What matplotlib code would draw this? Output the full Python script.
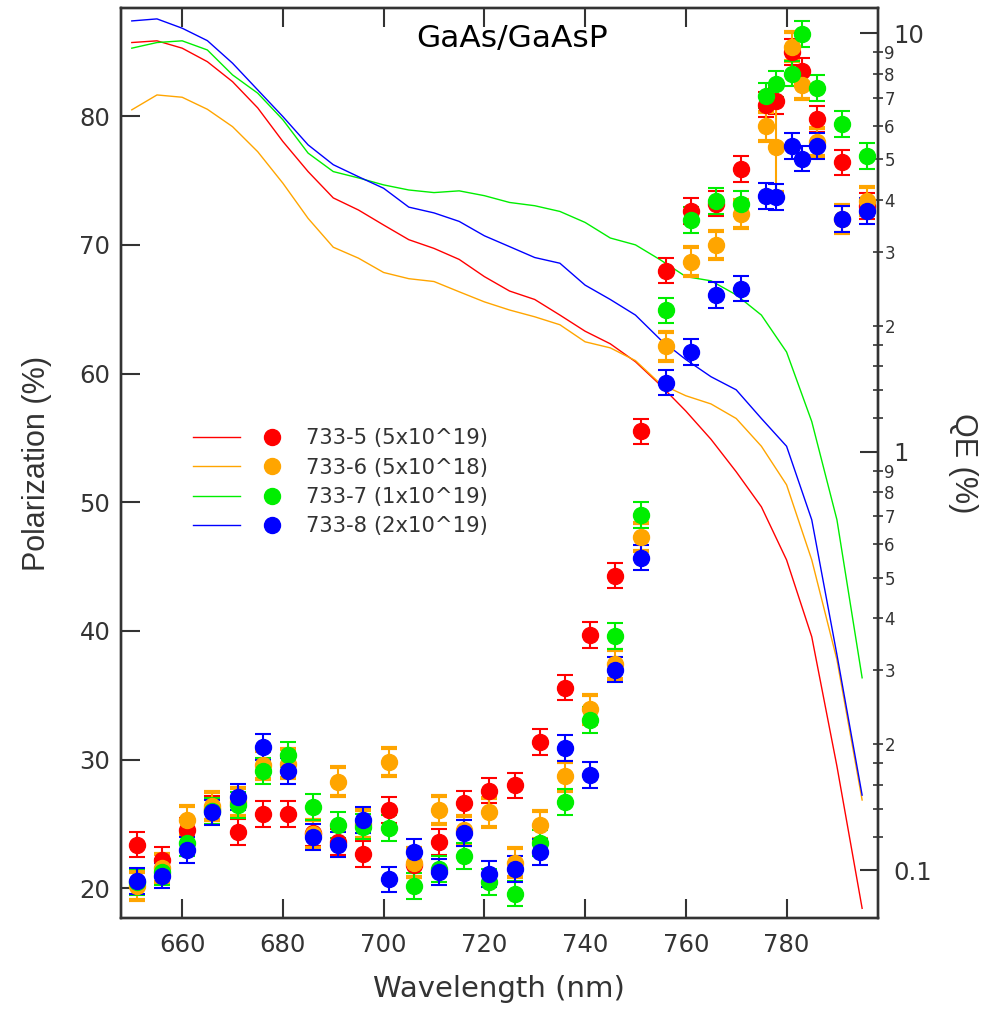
import numpy as np
import matplotlib
matplotlib.use("Agg")
import matplotlib.pyplot as plt
from matplotlib.lines import Line2D
from matplotlib.legend_handler import HandlerTuple
from matplotlib.ticker import FixedLocator, FuncFormatter

# Wide sans for horizontal text, narrower one for the rotated axis labels
plt.rcParams['font.family'] = ['DejaVu Sans']
narrowFont = ['Liberation Sans', 'DejaVu Sans']

# ---------------------------------------------------------------------------#
# ------------------------------- Data ------------------------------------- #

samples = ['733-5 (5x10^19)', '733-6 (5x10^18)', '733-7 (1x10^19)', '733-8 (2x10^19)']
colors = ['#ff0000', '#ffa500', '#00ee00', '#0000ff']

# QE curves (right axis, %)
qeWave = [650, 655, 660, 665, 670, 675, 680, 685, 690, 695, 700, 705, 710, 715, 720,
          725, 730, 735, 740, 745, 750, 755, 760, 765, 770, 775, 780, 785, 790, 795]
qe733_5 = [9.50, 9.59, 9.21, 8.55, 7.66, 6.63, 5.51, 4.67, 4.04, 3.78, 3.48, 3.21, 3.06, 2.88, 2.62,
           2.42, 2.31, 2.12, 1.94, 1.81, 1.64, 1.44, 1.25, 1.07, 0.895, 0.738, 0.551, 0.361, 0.177, 0.081]
qe733_6 = [6.56, 7.12, 7.03, 6.58, 5.98, 5.21, 4.38, 3.61, 3.08, 2.90, 2.68, 2.59, 2.55, 2.41, 2.28,
           2.18, 2.10, 2.01, 1.83, 1.77, 1.65, 1.45, 1.36, 1.30, 1.20, 1.03, 0.833, 0.551, 0.318, 0.147]
qe733_7 = [9.21, 9.50, 9.59, 9.12, 7.95, 7.19, 6.21, 5.17, 4.67, 4.51, 4.34, 4.22, 4.16, 4.20, 4.09,
           3.94, 3.87, 3.75, 3.53, 3.24, 3.12, 2.87, 2.62, 2.56, 2.37, 2.12, 1.73, 1.18, 0.687, 0.288]
qe733_8 = [10.70, 10.82, 10.28, 9.60, 8.48, 7.32, 6.32, 5.41, 4.85, 4.54, 4.26, 3.84, 3.72, 3.55, 3.28,
           3.09, 2.91, 2.82, 2.50, 2.31, 2.12, 1.85, 1.66, 1.51, 1.405, 1.20, 1.03, 0.687, 0.327, 0.151]

# Polarization points (left axis, %)
polWave = [651, 656, 661, 666, 671, 676, 681, 686, 691, 696, 701, 706, 711, 716, 721, 726,
           731, 736, 741, 746, 751, 756, 761, 766, 771, 776, 778, 781, 783, 786, 791, 796]
pol733_5 = [23.4, 22.2, 24.5, 26.2, 24.4, 25.8, 25.8, 24.3, 23.6, 22.7, 26.1, 21.8, 23.6, 26.6, 27.6, 28.0,
            31.4, 35.6, 39.7, 44.3, 55.5, 68.0, 72.6, 73.2, 75.9, 80.9, 81.2, 85.0, 83.5, 79.8, 76.4, 73.0]
pol733_6 = [20.2, 21.6, 25.3, 26.4, 26.7, 29.6, 29.7, 24.2, 28.3, 25.0, 29.8, 22.0, 26.1, 24.5, 25.9, 22.0,
            24.9, 28.7, 33.9, 37.4, 47.3, 62.1, 68.7, 70.0, 72.4, 79.2, 77.6, 85.4, 82.4, 78.0, 72.0, 73.4]
pol733_7 = [20.5, 21.3, 23.5, 26.0, 26.5, 29.1, 30.4, 26.3, 24.9, 24.8, 24.7, 20.2, 21.5, 22.5, 20.5, 19.6,
            23.5, 26.7, 33.1, 39.6, 49.0, 64.9, 71.9, 73.4, 73.2, 81.6, 82.5, 83.3, 86.4, 82.2, 79.4, 76.9]
pol733_8 = [20.6, 21.0, 23.0, 25.9, 27.1, 31.0, 29.1, 24.0, 23.4, 25.3, 20.7, 22.8, 21.3, 24.3, 21.1, 21.5,
            22.8, 30.9, 28.8, 37.0, 45.7, 59.3, 61.7, 66.1, 66.6, 73.8, 73.7, 77.7, 76.7, 77.7, 72.0, 72.6]
polErr = [1.0, 1.1, 1.0, 1.0]
polErr733_6 = [1.1, 1.1, 1.1, 1.1, 1.1, 1.1, 1.1, 1.1, 1.1, 1.1, 1.1, 1.1, 1.1, 1.1, 1.1, 1.1,
               1.1, 1.1, 1.1, 1.1, 1.1, 1.1, 1.1, 1.1, 1.1, 1.1, 3.5, 1.1, 1.1, 1.1, 1.1, 1.1]

qeCurves = [qe733_5, qe733_6, qe733_7, qe733_8]
polCurves = [pol733_5, pol733_6, pol733_7, pol733_8]

# ---------------------------------------------------------------------------#
# ------------------------------- Plot ------------------------------------- #

axisColor = '#333333'
fig = plt.figure(figsize=(9.87, 10.10), dpi=100)
ax = fig.add_axes([0.1223, 0.0911, 0.767, 0.901])
ax2 = ax.twinx()

# QE lines on the log axis
for qe, c in zip(qeCurves, colors):
    ax2.plot(qeWave, qe, '-', color=c, linewidth=1.0)

# Polarization points with error bars
for i, (pol, c) in enumerate(zip(polCurves, colors)):
    err = polErr733_6 if i == 1 else polErr[i]
    ax.errorbar(polWave, pol, yerr=err, fmt='o', color=c, ms=11.5, mec=c,
                ecolor=c, elinewidth=1.5, capsize=6, capthick=3.0 if i == 1 else 1.5)

# Points over the lines
ax.set_zorder(ax2.get_zorder() + 1)
ax.patch.set_visible(False)

ax.set_xlim(647.8, 798.1)
ax.set_ylim(17.7, 88.4)
ax2.set_yscale('log')
ax2.set_ylim(0.0768, 11.49)

# Left / bottom / top ticks
ax.set_xticks([660, 680, 700, 720, 740, 760, 780])
ax.set_yticks([20, 30, 40, 50, 60, 70, 80])
ax.tick_params(axis='both', which='major', direction='in', length=13.5, width=1.5,
               colors=axisColor, labelsize=17.5, pad=7.5, top=True, right=False)
ax.tick_params(axis='x', pad=10.5)

# Right log ticks
ax2.yaxis.set_major_locator(FixedLocator([0.1, 1, 10]))
ax2.yaxis.set_major_formatter(FuncFormatter(lambda v, p: {0.1: '0.1', 1: '1', 10: '10'}.get(round(v, 3), '')))
minorTicks = []
for dec in [0.01, 0.1, 1]:
    for s in [12, 14, 16, 18, 20, 30, 40, 50, 60, 70, 80, 90]:
        minorTicks.append(dec * s)
minorTicks = [t for t in minorTicks if 0.085 < t < 11]
ax2.yaxis.set_minor_locator(FixedLocator(minorTicks))

def minorLabel(v, pos):
    mant = v / 10 ** np.floor(np.log10(v) + 1e-9)
    if abs(mant - round(mant)) < 1e-6 and 2 <= round(mant) <= 9:
        return str(int(round(mant)))
    return ''

ax2.yaxis.set_minor_formatter(FuncFormatter(minorLabel))
ax2.tick_params(axis='y', which='major', direction='in', length=13, width=1.5,
                colors=axisColor, labelsize=17.5, pad=11)
ax2.tick_params(axis='y', which='minor', direction='inout', length=7.5, width=1.2,
                colors=axisColor, labelsize=12, pad=1)

for a in (ax, ax2):
    for sp in a.spines.values():
        sp.set_linewidth(1.7)
        sp.set_color(axisColor)

# Labels
ax.set_xlabel('Wavelength (nm)', fontsize=21, color=axisColor)
ax.xaxis.set_label_coords(0.5, -0.063)
ax.set_ylabel('Polarization (%)', fontsize=22, color=axisColor, family=narrowFont)
ax.yaxis.set_label_coords(-0.091, 0.5)
ax2.set_ylabel('QE (%)', fontsize=22, color=axisColor, rotation=270, va='bottom', family=narrowFont)
ax2.yaxis.set_label_coords(1.093, 0.5)
ax.text(0.517, 0.966, 'GaAs/GaAsP', transform=ax.transAxes, ha='center', va='center',
        fontsize=22.5, color='black')

# Legend: line + marker per sample
handles = [(Line2D([], [], color=c, linewidth=1.0),
            Line2D([], [], color=c, marker='o', linestyle='none', ms=11.5)) for c in colors]
ax.legend(handles, samples, handler_map={tuple: HandlerTuple(ndivide=None, pad=0.4)},
          loc='upper left', bbox_to_anchor=(0.0955, 0.538), frameon=False, fontsize=15.2,
          handlelength=4.85, handletextpad=0.5, labelspacing=0.44, borderpad=0,
          borderaxespad=0, labelcolor=axisColor)

fig.savefig('out.png', dpi=100)
